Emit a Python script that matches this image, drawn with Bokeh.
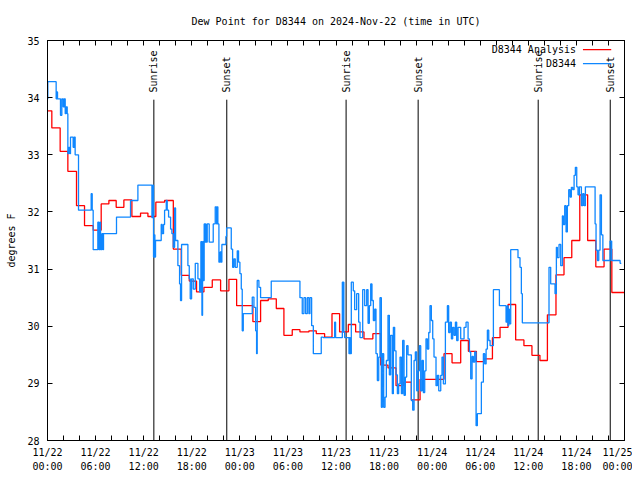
import math
from bokeh.plotting import figure
from bokeh.models import FixedTicker, LinearAxis, Range1d, Title
from bokeh.core.properties import value
from bokeh.embed import file_html
from bokeh.resources import INLINE

# ---------------- data (hours since 2024-11-22 00:00 UTC, degrees F) ----------------
title_text = "Dew Point for D8344 on 2024-Nov-22 (time in UTC)"
y_label = "degrees F"
legend_labels = ["D8344 Analysis", "D8344"]

xtick_hours = [0, 6, 12, 18, 24, 30, 36, 42, 48, 54, 60, 66, 72]
xtick_labels = ["11/22\n00:00", "11/22\n06:00", "11/22\n12:00", "11/22\n18:00",
                "11/23\n00:00", "11/23\n06:00", "11/23\n12:00", "11/23\n18:00",
                "11/24\n00:00", "11/24\n06:00", "11/24\n12:00", "11/24\n18:00",
                "11/25\n00:00"]
ytick_values = [28, 29, 30, 31, 32, 33, 34, 35]

sun_hours = [13.27, 22.37, 37.26, 46.25, 61.23, 70.22]
sun_labels = ["Sunrise", "Sunset", "Sunrise", "Sunset", "Sunrise", "Sunset"]

red_t = [0, 0.54, 1.58, 2.54, 3.62, 4.62, 5.70, 6.70, 7.66, 8.57,
         9.53, 10.53, 11.61, 12.53, 13.52, 14.61, 15.70, 16.69, 17.69, 18.60,
         19.52, 20.56, 21.60, 22.64, 23.60, 25.63, 26.59, 27.55, 28.55, 29.50,
         30.54, 31.50, 32.62, 33.54, 34.58, 35.50, 36.45, 37.54, 38.45, 39.49,
         40.60, 41.58, 42.49, 43.49, 44.41, 45.40, 46.49, 49.48, 50.48, 51.56,
         52.52, 53.52, 54.47, 55.52, 56.47, 57.47, 58.42, 59.45, 60.45, 61.45,
         62.38, 63.45, 64.45, 65.42, 66.42, 67.40, 68.42, 69.45, 70.42, 72.0]
red_v = [33.77, 33.47, 33.06, 32.71, 32.11, 31.76, 31.68, 32.14, 32.20, 32.08,
         32.21, 31.92, 31.98, 31.92, 32.17, 32.20, 31.35, 30.89, 30.79, 30.60,
         30.68, 30.81, 30.62, 30.82, 30.36, 30.08, 30.45, 30.48, 30.31, 29.84,
         29.94, 29.90, 29.92, 29.87, 29.81, 30.22, 29.90, 30.03, 29.90, 29.78,
         29.87, 29.32, 29.27, 28.96, 29.02, 28.71, 29.07, 29.52, 29.36, 29.75,
         29.56, 29.38, 29.43, 29.80, 29.98, 30.38, 29.76, 29.66, 29.49, 29.40,
         30.20, 30.90, 31.20, 31.50, 32.30, 31.50, 31.04, 31.35, 30.59, 30.59]

blue_t_1 = [0, 0.04, 1.08, 1.17, 1.25, 1.62, 1.79, 1.96, 2.08, 2.21,
            2.33, 2.46, 2.54, 2.66, 2.79, 2.87, 3.20, 3.33, 3.45, 3.87,
            5.45, 5.58, 5.70, 6.28, 6.41, 6.53, 6.62, 6.78, 6.91, 6.99,
            8.61, 10.36, 11.28, 13.03, 13.15, 13.23, 13.32, 13.40, 13.48, 14.19,
            14.31, 14.48, 14.61, 14.82, 14.94, 15.11, 15.36, 15.52, 15.69, 15.86,
            15.98, 16.27, 16.48, 16.60, 16.73, 17.52, 17.69, 17.81, 17.98, 18.19,
            18.44, 18.77, 18.98, 19.14, 19.27]
blue_v_1 = [33.98, 34.28, 33.98, 34.10, 33.98, 33.69, 33.98, 33.84, 33.98, 33.72,
            33.84, 33.72, 33.02, 33.13, 33.02, 33.31, 33.13, 33.31, 33.00, 32.03,
            32.32, 32.03, 31.34, 31.82, 31.34, 31.82, 31.34, 31.62, 31.34, 31.62,
            31.91, 32.20, 32.47, 31.90, 32.47, 31.21, 31.60, 31.21, 31.50, 31.78,
            31.62, 31.78, 32.03, 32.20, 32.03, 31.91, 31.70, 31.62, 31.38, 32.07,
            31.50, 31.06, 30.74, 30.45, 31.43, 31.06, 30.83, 30.48, 30.83, 30.65,
            31.10, 30.83, 30.60, 31.48, 30.19]

blue_t_2 = [19.35, 19.45, 19.55, 19.62, 19.70, 19.78, 19.93, 20.18, 20.68, 20.93,
            21.10, 21.18, 21.26, 21.39, 21.55, 21.64, 21.76, 22.26, 22.35, 22.93,
            23.10, 23.26, 23.43, 23.68, 23.84, 24.01, 24.18, 24.30, 24.43, 25.55,
            25.76, 25.97, 26.09, 26.17, 26.38, 26.59, 27.92, 31.50, 31.79, 32.00,
            32.21, 32.42, 32.62, 32.75, 32.96, 33.17, 34.16, 34.41, 35.83, 35.95,
            36.79, 36.85, 36.92, 36.98, 37.08, 37.62, 37.70, 37.78, 37.91]
blue_v_2 = [31.48, 30.80, 31.79, 31.47, 31.79, 31.47, 31.79, 31.47, 31.79, 32.09,
            31.79, 32.09, 31.79, 31.12, 31.30, 31.12, 31.43, 31.57, 31.72, 31.35,
            31.03, 31.18, 31.03, 31.32, 31.12, 30.92, 30.65, 29.92, 30.22, 30.51,
            30.33, 29.92, 29.52, 30.80, 30.68, 30.50, 30.79, 30.50, 30.22, 30.50,
            30.22, 30.50, 30.22, 30.50, 30.01, 29.52, 29.81, 29.80, 30.07, 29.80,
            30.77, 29.90, 30.77, 29.90, 29.80, 29.52, 29.80, 29.52, 30.77]

blue_t_3 = [38.00, 38.16, 38.33, 38.58, 38.83, 39.00, 39.33, 39.58, 39.83, 40.00,
            40.16, 40.33, 40.49, 40.66, 40.83, 40.99, 41.16, 41.33, 41.49, 41.66,
            41.78, 41.95, 42.12, 42.28, 42.49, 42.66, 42.82, 43.03, 43.16, 43.32,
            43.49, 43.66, 43.82, 43.99, 44.16, 44.32, 44.49, 44.65, 44.82, 44.99,
            45.40, 45.57, 45.74, 45.90, 46.07, 46.24, 46.40, 46.57, 46.74, 46.90,
            47.07, 47.23, 47.40, 47.57, 47.73, 47.90, 48.07, 48.23, 48.48, 48.65,
            48.82, 49.07, 49.23, 49.40, 49.65, 49.90, 50.06, 50.23, 50.40, 50.56,
            50.73, 50.90, 51.06, 51.23, 51.56, 51.98, 52.23, 52.48, 52.65, 52.81,
            52.98, 53.14, 53.31, 53.48, 53.64, 54.14, 54.39, 54.56, 54.73, 54.89,
            55.06, 55.23, 55.64, 56.39, 57.22, 57.38, 57.47, 57.55, 57.63, 57.80]
blue_v_3 = [30.77, 30.62, 30.29, 30.57, 30.07, 29.80, 30.64, 30.36, 30.64, 30.05,
            30.36, 30.74, 30.45, 30.10, 30.30, 29.52, 29.05, 29.46, 30.50, 28.58,
            29.52, 28.58, 28.76, 29.40, 30.19, 29.15, 29.84, 28.82, 29.98, 29.57,
            29.15, 28.82, 28.99, 29.46, 28.82, 29.75, 28.79, 29.11, 29.66, 29.50,
            28.70, 28.53, 29.40, 29.55, 28.87, 29.22, 29.66, 28.87, 29.40, 28.84,
            29.22, 29.78, 29.60, 29.89, 30.36, 30.10, 29.78, 29.46, 28.96, 29.14,
            28.87, 29.14, 29.46, 28.99, 30.07, 30.36, 29.89, 30.07, 29.78, 29.98,
            29.84, 30.07, 29.75, 29.98, 29.78, 29.98, 30.07, 29.78, 29.55, 29.08,
            29.47, 29.37, 29.55, 28.26, 28.47, 29.02, 29.52, 29.34, 29.60, 29.93,
            29.75, 29.66, 30.64, 30.36, 30.07, 30.36, 30.01, 30.30, 30.04, 31.34]

blue_t_4 = [58.71, 58.96, 59.13, 59.25, 62.58, 62.79, 63.33, 63.50, 63.62, 63.83,
            64.04, 64.25, 64.37, 64.54, 64.71, 64.87, 65.04, 65.21, 65.37, 65.54,
            65.71, 65.87, 66.04, 66.20, 66.37, 66.62, 66.79, 66.95, 67.12, 68.33,
            68.45, 68.62, 68.79, 68.95, 69.12, 69.30, 70.20, 70.40, 71.45, 71.60]
blue_v_4 = [31.20, 31.03, 30.57, 30.06, 31.03, 30.74, 30.57, 31.38, 31.20, 31.43,
            31.06, 31.93, 31.78, 32.11, 31.65, 32.11, 32.39, 32.26, 32.43, 32.39,
            32.64, 32.78, 32.44, 32.30, 32.44, 32.11, 32.32, 32.11, 32.44, 31.79,
            31.33, 31.15, 31.33, 32.30, 31.60, 31.15, 31.49, 31.15, 31.10, 31.10]

blue_t = blue_t_1 + blue_t_2 + blue_t_3 + blue_t_4
blue_v = blue_v_1 + blue_v_2 + blue_v_3 + blue_v_4

# ---------------- styling ----------------
FONT = "DejaVu Sans Mono"
FS = "10px"
RED = "#ff0000"
BLUE = "#0f87ff"

X0, X1 = xtick_hours[0], xtick_hours[-1]
Y0, Y1 = ytick_values[0], ytick_values[-1]

p = figure(width=632, height=475, output_backend="svg", toolbar_location=None,
           title=None,
           x_range=Range1d(X0, X1), y_range=Range1d(Y0, Y1),
           min_border_left=47, min_border_right=8, min_border_top=40,
           min_border_bottom=35, x_axis_type=None, y_axis_type=None)
p.background_fill_color = "white"
p.border_fill_color = "white"
p.outline_line_color = "black"
p.outline_line_alpha = 1.0
p.outline_line_width = 1
p.xgrid.visible = False
p.ygrid.visible = False

x_minor = list(range(X0, X1 + 1, 2))
x_over = {t: "" for t in x_minor}
for h, lab in zip(xtick_hours, xtick_labels):
    x_over[h] = lab


def style_axis(ax):
    ax.major_tick_in = 5
    ax.major_tick_out = 0
    ax.minor_tick_in = 0
    ax.minor_tick_out = 0
    ax.axis_line_color = "black"
    ax.major_tick_line_color = "black"
    ax.major_label_text_font = FONT
    ax.major_label_text_font_size = FS
    ax.major_label_text_color = "black"


xb = LinearAxis(ticker=FixedTicker(ticks=x_minor))
style_axis(xb)
xb.major_label_overrides = x_over
xb.major_label_standoff = 6
xb.major_label_text_line_height = 1.35
p.add_layout(xb, "below")

xt = LinearAxis(ticker=FixedTicker(ticks=x_minor))
style_axis(xt)
xt.major_label_overrides = {t: "" for t in x_minor}
xt.major_label_standoff = 0
p.add_layout(xt, "above")

p.add_layout(Title(text=title_text, align="center", text_font=FONT,
                   text_font_size=FS, text_font_style="normal",
                   text_color="black", standoff=27), "above")

yl = LinearAxis(ticker=FixedTicker(ticks=ytick_values))
style_axis(yl)
yl.major_label_standoff = 8
yl.axis_label = y_label
yl.axis_label_text_font = FONT
yl.axis_label_text_font_size = FS
yl.axis_label_text_font_style = "normal"
yl.axis_label_text_color = "black"
yl.axis_label_standoff = 7
p.add_layout(yl, "left")

yr = LinearAxis(ticker=FixedTicker(ticks=ytick_values))
style_axis(yr)
yr.major_label_overrides = {v: "" for v in ytick_values}
yr.major_label_standoff = 0
p.add_layout(yr, "right")

# sunrise / sunset markers
label_base = Y1 - (Y1 - Y0) * 0.13   # where the rotated text starts
line_top = label_base - (Y1 - Y0) * 0.018
p.segment(x0=sun_hours, x1=sun_hours, y0=[Y0] * len(sun_hours),
          y1=[line_top] * len(sun_hours), line_color="black", line_width=1)
p.text(x=sun_hours, y=[label_base] * len(sun_hours), text=sun_labels,
       angle=math.pi / 2, text_align="left", text_baseline="middle",
       text_font=value(FONT), text_font_size=FS, text_color="black")

# data
p.step(red_t, red_v, mode="after", line_color=RED, line_width=1.3)
p.step(blue_t, blue_v, mode="after", line_color=BLUE, line_width=1.3)

# gnuplot style key (text left, sample right)
key_text_x = X0 + (X1 - X0) * 0.916
key_line_x0 = X0 + (X1 - X0) * 0.928
key_line_x1 = X0 + (X1 - X0) * 0.977
key_y = [Y1 - (Y1 - Y0) * 0.023, Y1 - (Y1 - Y0) * 0.058]
p.text(x=[key_text_x] * 2, y=key_y, text=legend_labels, text_align="right",
       text_baseline="middle", text_font=value(FONT), text_font_size=FS,
       text_color="black")
p.segment(x0=[key_line_x0] * 2, x1=[key_line_x1] * 2, y0=key_y, y1=key_y,
          line_color=[RED, BLUE], line_width=1.3)

open("out.html", "w").write(file_html(p, INLINE))
